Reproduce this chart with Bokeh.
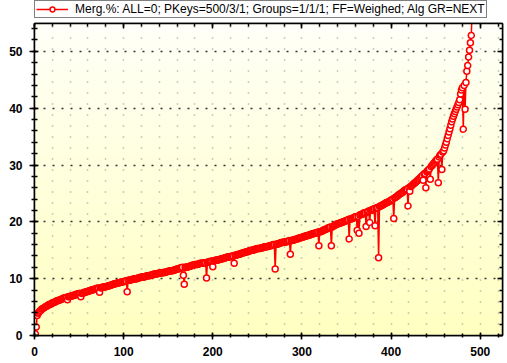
import numpy as np
from bokeh.plotting import figure
from bokeh.layouts import column
from bokeh.models import (LinearAxis, Range1d, Legend, LegendItem,
                          SingleIntervalTicker)
from bokeh.embed import file_html
from bokeh.resources import INLINE

# ---------------- data ----------------
point_no = list(range(1, 492))

merg_pct = [
    0.3, 1.5, 3.5, 3.9, 4.1, 4.3, 4.4, 4.6, 4.7, 4.8,
    4.9, 5.0, 5.1, 5.2, 5.3, 5.4, 5.5, 5.5, 5.6, 5.7,
    5.8, 5.8, 5.9, 6.0, 6.1, 6.1, 6.2, 6.2, 6.3, 6.4,
    6.4, 6.5, 6.6, 6.6, 6.7, 6.7, 6.3, 6.8, 6.8, 6.9,
    6.9, 7.0, 7.0, 7.1, 7.1, 7.2, 7.2, 7.3, 7.3, 7.4,
    7.4, 6.8, 7.4, 7.5, 7.5, 7.6, 7.6, 7.7, 7.7, 7.8,
    7.8, 7.9, 7.9, 8.0, 8.0, 8.1, 8.1, 8.2, 8.2, 8.3,
    8.3, 8.3, 7.6, 8.4, 8.4, 8.5, 8.5, 8.6, 8.6, 8.6,
    8.6, 8.7, 8.7, 8.8, 8.8, 8.9, 8.9, 9.0, 9.0, 9.1,
    9.1, 9.2, 9.2, 9.3, 9.3, 9.3, 9.4, 9.4, 9.4, 9.5,
    9.5, 9.6, 9.6, 7.7, 9.7, 9.7, 9.7, 9.8, 9.8, 9.9,
    9.9, 10.0, 10.0, 10.0, 10.0, 10.1, 10.1, 10.2, 10.2, 10.3,
    10.3, 10.3, 10.3, 10.4, 10.4, 10.5, 10.5, 10.5, 10.5, 10.6,
    10.6, 10.7, 10.7, 10.8, 10.8, 10.8, 10.8, 10.9, 10.9, 11.0,
    11.0, 11.0, 11.0, 11.1, 11.1, 11.1, 11.1, 11.2, 11.2, 11.3,
    11.3, 11.4, 11.4, 11.4, 11.4, 11.5, 11.5, 11.6, 11.6, 11.7,
    11.7, 11.8, 11.8, 11.9, 11.9, 12.0, 10.6, 9.0, 12.0, 12.0,
    12.0, 12.1, 12.1, 12.2, 12.2, 12.3, 12.3, 12.4, 12.4, 12.5,
    12.5, 12.5, 12.5, 12.6, 12.6, 12.7, 12.7, 12.7, 12.7, 12.8,
    12.8, 12.8, 10.1, 12.9, 12.9, 13.0, 13.0, 13.0, 13.1, 12.1,
    13.1, 13.2, 13.2, 13.3, 13.3, 13.3, 13.3, 13.4, 13.4, 13.5,
    13.5, 13.6, 13.6, 13.7, 13.7, 13.8, 13.8, 13.8, 13.8, 13.9,
    13.9, 14.0, 14.0, 12.7, 14.1, 14.1, 14.2, 14.2, 14.3, 14.3,
    14.4, 14.4, 14.5, 14.5, 14.6, 14.6, 14.7, 14.7, 14.8, 14.8,
    14.9, 14.9, 15.0, 15.0, 15.0, 15.1, 15.1, 15.2, 15.2, 15.3,
    15.3, 15.3, 15.3, 15.4, 15.4, 15.5, 15.5, 15.6, 15.6, 15.6,
    15.6, 15.7, 15.7, 15.8, 15.8, 15.9, 15.9, 16.0, 16.0, 11.7,
    16.0, 16.1, 16.1, 16.2, 16.2, 16.3, 16.3, 16.4, 16.4, 16.4,
    16.4, 16.5, 16.5, 16.6, 16.6, 16.7, 14.3, 16.7, 16.7, 16.8,
    16.8, 16.9, 16.9, 17.0, 17.0, 17.1, 17.1, 17.2, 17.2, 17.3,
    17.3, 17.4, 17.4, 17.5, 17.5, 17.6, 17.6, 17.7, 17.7, 17.8,
    17.8, 17.9, 17.9, 18.0, 18.0, 18.1, 18.1, 18.2, 15.8, 18.2,
    18.3, 18.3, 18.4, 18.5, 18.6, 18.6, 18.7, 18.8, 18.9, 18.9,
    19.0, 19.1, 15.8, 19.1, 19.2, 19.3, 19.4, 19.5, 19.6, 19.6,
    19.7, 19.7, 19.8, 19.9, 19.9, 20.0, 20.0, 20.1, 20.2, 20.2,
    20.3, 20.4, 17.0, 20.5, 20.5, 20.6, 20.6, 20.7, 20.8, 20.9,
    20.9, 18.5, 21.0, 18.0, 21.2, 21.3, 21.3, 21.4, 21.5, 21.6,
    21.6, 19.2, 21.7, 21.8, 21.9, 19.9, 22.0, 22.1, 22.1, 22.2,
    22.3, 19.3, 22.4, 22.5, 22.5, 13.7, 22.7, 22.8, 22.8, 22.9,
    23.0, 23.1, 23.2, 23.3, 23.4, 23.4, 23.5, 23.6, 23.7, 23.8,
    23.9, 24.0, 20.6, 24.2, 24.3, 24.4, 24.5, 24.7, 24.8, 24.9,
    25.0, 25.1, 25.2, 25.4, 25.5, 25.6, 25.7, 25.8, 22.8, 26.0,
    25.4, 26.2, 26.3, 26.5, 26.6, 26.8, 26.9, 27.0, 27.2, 27.3,
    27.5, 27.6, 27.8, 27.9, 28.1, 27.3, 28.4, 28.5, 26.0, 28.8,
    29.0, 29.1, 29.3, 27.5, 29.7, 29.9, 30.1, 30.3, 30.5, 30.7,
    30.9, 31.0, 26.9, 31.4, 31.7, 31.9, 29.2, 32.3, 32.5, 33.0,
    33.5, 34.0, 34.6, 35.2, 35.8, 36.4, 37.0, 37.6, 38.1, 38.6,
    39.0, 39.4, 39.8, 40.2, 40.6, 41.0, 41.5, 42.5, 43.2, 43.6,
    36.3, 44.0, 39.8, 44.5, 46.5, 47.5, 49.0, 50.2, 51.5, 52.8,
    58.0,
]
assert len(point_no) == len(merg_pct), (len(point_no), len(merg_pct))

legend_label = "Merg.%: ALL=0; PKeys=500/3/1; Groups=1/1/1; FF=Weighed; Alg GR=NEXT"
x_max = 525
y_max = 54.9

FONT = "Liberation Sans"
RED = "#FF0000"

# ---------------- legend strip above the chart ----------------
strip = figure(width=507, height=22, output_backend="svg", toolbar_location=None,
               x_range=Range1d(0, 1), y_range=Range1d(0, 1),
               x_axis_type=None, y_axis_type=None, min_border=0)
strip.outline_line_color = None
strip.background_fill_color = "white"
strip.border_fill_color = "white"
nan = float("nan")
s_line = strip.line(x=[nan], y=[nan], line_color=RED, line_width=1.5)
s_pts = strip.scatter(x=[nan], y=[nan], marker="circle", size=6,
                      line_color=RED, line_width=1.5, fill_color="white")
legend = Legend(items=[LegendItem(label=legend_label, renderers=[s_line, s_pts])],
                location=(0, 4))
legend.margin = 0
legend.padding = 1
legend.spacing = 0
legend.glyph_width = 32
legend.glyph_height = 12
legend.label_standoff = 7
legend.label_height = 12
legend.label_width = 407
legend.label_text_font = FONT
legend.label_text_font_size = "12px"
legend.label_text_color = "black"
legend.border_line_color = "black"
legend.border_line_width = 1
legend.background_fill_color = "white"
legend.background_fill_alpha = 1
strip.add_layout(legend, "center")

# ---------------- main chart ----------------
p = figure(width=507, height=341, output_backend="svg", toolbar_location=None,
           x_range=Range1d(0, x_max), y_range=Range1d(0, y_max),
           min_border_left=34, min_border_right=5, min_border_top=1,
           min_border_bottom=28)
p.outline_line_color = "black"
p.outline_line_width = 1.5
p.background_fill_color = "#FFFFE0"
p.border_fill_color = "white"

# background vertical gradient (style only)
n = 64
t = np.linspace(0, 1, n)
img = np.zeros((n, 1), dtype=np.uint32)
view = img.view(dtype=np.uint8).reshape((n, 1, 4))
view[:, 0, 0] = 255
view[:, 0, 1] = 255
view[:, 0, 2] = (194 + (248 - 194) * t).astype(int)
view[:, 0, 3] = 255
bg = p.image_rgba(image=[img], x=0, y=0, dw=x_max, dh=y_max)
bg.level = "image"

# grids
p.xgrid.ticker = SingleIntervalTicker(interval=20)
p.xgrid.grid_line_color = "#9a9a9a"
p.xgrid.grid_line_dash = "1 10"
p.xgrid.grid_line_width = 1.5
p.ygrid.ticker = SingleIntervalTicker(interval=10)
p.ygrid.grid_line_color = "#333333"
p.ygrid.grid_line_dash = "2 7"
p.ygrid.grid_line_width = 1.5

# data
p.line(point_no, merg_pct, line_color=RED, line_width=1.5)
p.scatter(point_no, merg_pct, marker="circle", size=6,
          line_color=RED, line_width=1.5, fill_color="white")

# axes
def style_axis(ax, labels=True):
    ax.axis_line_color = "black"
    ax.axis_line_width = 1.5
    ax.major_tick_line_color = "black"
    ax.minor_tick_line_color = "black"
    ax.major_tick_line_width = 1.5
    ax.minor_tick_line_width = 1.5
    ax.major_label_text_font = FONT
    ax.major_label_text_font_style = "bold"
    if labels:
        ax.major_label_text_font_size = "12px"
        ax.major_label_text_color = "black"
    else:
        ax.major_label_text_font_size = "1px"
        ax.major_label_text_color = None

xa = p.xaxis[0]
xa.ticker = SingleIntervalTicker(interval=100, num_minor_ticks=5)
style_axis(xa)
xa.major_tick_in = 3
xa.major_tick_out = 4
xa.minor_tick_in = 2
xa.minor_tick_out = 2
xa.major_label_standoff = 7

ya = p.yaxis[0]
ya.ticker = SingleIntervalTicker(interval=10, num_minor_ticks=5)
style_axis(ya)
ya.major_tick_in = 4
ya.major_tick_out = 5
ya.minor_tick_in = 3
ya.minor_tick_out = 3
ya.major_label_standoff = 7

top = LinearAxis(ticker=SingleIntervalTicker(interval=100, num_minor_ticks=5))
style_axis(top, labels=False)
top.major_tick_in = 5
top.major_tick_out = 0
top.minor_tick_in = 3
top.minor_tick_out = 0
top.major_label_standoff = 0
p.add_layout(top, "above")

right = LinearAxis(ticker=SingleIntervalTicker(interval=10, num_minor_ticks=5))
style_axis(right, labels=False)
right.major_tick_in = 5
right.major_tick_out = 0
right.minor_tick_in = 3
right.minor_tick_out = 0
right.major_label_standoff = 0
p.add_layout(right, "right")

layout = column(strip, p, spacing=0)
open("out.html", "w").write(file_html(layout, INLINE))
